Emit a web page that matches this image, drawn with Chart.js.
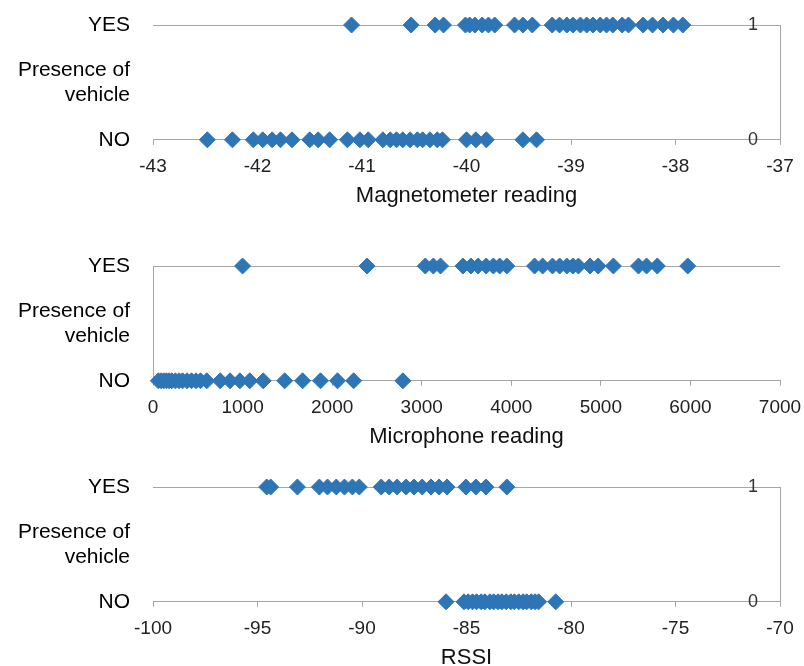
<!DOCTYPE html>
<html>
<head>
<meta charset="utf-8">
<script src="https://cdn.jsdelivr.net/npm/chart.js@4"></script>
<style>
  body { margin: 0; background: #fff; width: 804px; height: 666px; overflow: hidden; position: relative; }
  canvas { position: absolute; left: 0; }
</style>
</head>
<body>
<canvas id="mag" width="804" height="215" style="top:0px"></canvas>
<canvas id="mic" width="804" height="215" style="top:241px"></canvas>
<canvas id="rssi" width="804" height="215" style="top:462px"></canvas>
<script>
// Readings where a vehicle was present (YES) or absent (NO)
const magYes = [-41.10, -40.53, -40.30, -40.22, -40.01, -39.97, -39.92, -39.85, -39.79, -39.73, -39.54, -39.46, -39.37, -39.18, -39.11, -39.04, -38.98, -38.91, -38.85, -38.79, -38.72, -38.66, -38.60, -38.51, -38.45, -38.31, -38.22, -38.12, -38.02, -37.93];
const magNo = [-42.48, -42.24, -42.04, -41.95, -41.86, -41.78, -41.67, -41.50, -41.42, -41.31, -41.14, -41.02, -40.94, -40.80, -40.73, -40.67, -40.61, -40.54, -40.47, -40.42, -40.35, -40.28, -40.23, -40.00, -39.91, -39.81, -39.46, -39.33];
const micYes = [1000, 2390, 3040, 3130, 3210, 3460, 3550, 3630, 3720, 3800, 3870, 3950, 4260, 4350, 4460, 4540, 4620, 4690, 4750, 4880, 4970, 5140, 5420, 5510, 5630, 5970];
const micNo = [60, 90, 120, 150, 180, 210, 250, 290, 330, 380, 430, 480, 530, 600, 750, 860, 970, 1080, 1230, 1470, 1670, 1870, 2060, 2240, 2790];
const rssiYes = [-94.56, -94.37, -93.09, -92.04, -91.65, -91.23, -90.84, -90.46, -90.13, -89.08, -88.70, -88.32, -87.89, -87.51, -87.12, -86.70, -86.31, -85.93, -85.03, -84.55, -84.07, -83.07];
const rssiNo = [-85.98, -85.12, -84.92, -84.71, -84.52, -84.30, -84.12, -83.88, -83.70, -83.49, -83.31, -83.10, -82.88, -82.71, -82.50, -82.29, -82.12, -81.90, -81.72, -81.55, -80.73];

// Left axis labels (bottom, middle, top)
const yLabels = ['NO', ['Presence of', 'vehicle'], 'YES'];
const rightLabels = ['0', '1'];

const blue = '#2E75B6';
const lineGrey = '#a6a6a6';
const font = 'Liberation Sans, Arial, sans-serif';

Chart.defaults.animation = false;
Chart.defaults.events = [];

function toPoints(values, y) {
    return values.map(v => ({ x: v, y: y }));
}

function makePanel(id, yesVals, noVals, xMin, xMax, step, title, showRight, showLeftLine) {
    const ctx = document.getElementById(id).getContext('2d');
    const scales = {
        x: {
            type: 'linear',
            min: xMin,
            max: xMax,
            afterFit: axis => { axis.paddingLeft = 0; axis.paddingRight = 0; },
            ticks: {
                stepSize: step,
                color: '#222',
                font: { family: font, size: 19 },
                padding: 11,
                callback: v => String(v)
            },
            grid: { drawOnChartArea: false, tickLength: 5, color: lineGrey },
            border: { color: lineGrey },
            title: {
                display: true,
                text: title,
                color: '#111',
                font: { family: font, size: 22 },
                padding: { top: -7, bottom: 0 }
            }
        },
        y: {
            type: 'linear',
            min: 0,
            max: 1,
            afterBuildTicks: axis => { axis.ticks = [0, 0.5, 1].map(v => ({ value: v })); },
            afterFit: axis => { axis.width = 153; axis.paddingTop = 0; axis.paddingBottom = 0; },
            ticks: {
                autoSkip: false,
                color: '#000',
                font: { family: font, size: 21 },
                padding: 23,
                callback: v => yLabels[Math.round(v * 2)]
            },
            grid: {
                drawTicks: false,
                color: c => (c.tick && c.tick.value === 0.5) ? 'rgba(0,0,0,0)' : lineGrey
            },
            border: { display: showLeftLine, color: lineGrey }
        }
    };
    if (showRight) {
        scales.y2 = {
            type: 'linear',
            position: 'right',
            min: 0,
            max: 1,
            afterBuildTicks: axis => { axis.ticks = [0, 1].map(v => ({ value: v })); },
            afterFit: axis => { axis.width = 0; axis.paddingTop = 0; axis.paddingBottom = 0; },
            ticks: {
                mirror: true,
                padding: -22,
                color: '#333',
                font: { family: font, size: 18 },
                callback: v => rightLabels[v]
            },
            grid: { drawOnChartArea: false, drawTicks: false },
            border: { color: lineGrey }
        };
    }
    return new Chart(ctx, {
        type: 'scatter',
        data: {
            datasets: [
                { data: toPoints(yesVals, 1), yAxisID: 'y' },
                { data: toPoints(noVals, 0), yAxisID: 'y' }
            ].map(d => Object.assign(d, {
                pointStyle: 'rectRot',
                pointRadius: 8,
                backgroundColor: blue,
                borderColor: blue,
                borderWidth: 1
            }))
        },
        options: {
            responsive: false,
            clip: false,
            layout: { padding: { top: 25, right: 24, left: 0, bottom: 6 } },
            plugins: { legend: { display: false }, tooltip: { enabled: false } },
            scales: scales
        }
    });
}

makePanel('mag', magYes, magNo, -43, -37, 1, 'Magnetometer reading', true, false);
makePanel('mic', micYes, micNo, 0, 7000, 1000, 'Microphone reading', false, true);
makePanel('rssi', rssiYes, rssiNo, -100, -70, 5, 'RSSI', true, false);
</script>
</body>
</html>
